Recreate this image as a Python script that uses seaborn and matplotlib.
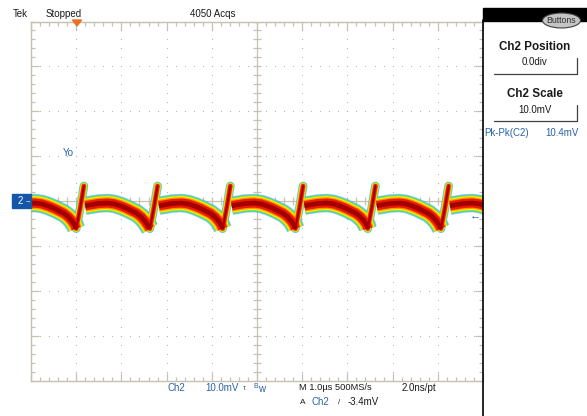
import numpy as np
import pandas as pd
import matplotlib
matplotlib.use("Agg")
import matplotlib.pyplot as plt
import seaborn as sns
from matplotlib.patches import Rectangle, Ellipse, Polygon
from matplotlib.lines import Line2D

# ---------------- data ----------------
# time of each droop minimum (start of the switching spike), microseconds
cycle_bottoms_us = [-5.61, -4.00, -2.37, -0.76, 0.85, 2.45, 4.07]
bottom_mv = -6.1
# fast rising spike after each minimum (offset from the minimum)
spike_dt_us = [0.00, 0.09, 0.17]
spike_mv = [-6.1, -1.4, 3.4]
# slow arch / droop between spikes (offset from the minimum)
band_dt_us = [0.20, 0.32, 0.50, 0.70, 0.85, 1.00, 1.12, 1.24, 1.34, 1.44, 1.52, 1.58]
band_mv = [-1.0, -0.8, -0.5, -0.4, -0.6, -1.1, -1.6, -2.2, -2.7, -3.5, -4.4, -5.3]

# persistence colour layers: (colour, alpha, band width pt, spike width pt)
layers = [
    ("#3a90e8", 0.45, 13.4, 6.4),
    ("#40d0d0", 1.0, 12.4, 5.8),
    ("#80e040", 1.0, 11.2, 5.2),
    ("#f8f000", 1.0, 10.0, 4.6),
    ("#ff9800", 1.0, 8.4, 3.9),
    ("#ee1a00", 1.0, 6.6, 3.0),
    ("#a00000", 1.0, 3.4, 1.4),
]

# build the trace pieces
rows = []
seg = 0
for i, tb in enumerate(cycle_bottoms_us):
    for dt, v in zip(spike_dt_us, spike_mv):
        rows.append(("spike", seg, tb + dt, v))
    seg += 1
    for dt, v in zip(band_dt_us, band_mv):
        rows.append(("band", seg, tb + dt, v))
    if i + 1 < len(cycle_bottoms_us):
        rows.append(("band", seg, cycle_bottoms_us[i + 1], bottom_mv))
    seg += 1
df = pd.DataFrame(rows, columns=["kind", "seg", "t", "mv"])
band = df[df.kind == "band"]
spike = df[df.kind == "spike"]

# ---------------- figure ----------------
sns.set_style("white")
plt.rcParams["font.family"] = ["Liberation Sans", "DejaVu Sans"]

W, H = 587, 416
fig = plt.figure(figsize=(W / 100, H / 100), dpi=100)
fig.patch.set_facecolor("white")

def fx(x):
    return x / W

def fy(y):
    return 1 - y / H

L, R, T, B = 31, 483, 21.5, 381
ax = fig.add_axes([fx(L), fy(B), (R - L) / W, (B - T) / H])
ax.set_xlim(-5, 5)
ax.set_ylim(-40, 40)
ax.set_facecolor("white")

gcol = "#c6c1b2"
dcol = "#b0b0b0"
# dotted graticule
for xv in range(-4, 5):
    if xv == 0:
        continue
    ys = np.arange(-40, 40.01, 2)
    ax.scatter(np.full_like(ys, xv, dtype=float), ys, s=0.7, color=dcol, linewidths=0, zorder=1)
for yv in range(-30, 31, 10):
    if yv == 0:
        continue
    xs = np.arange(-5, 5.01, 0.2)
    ax.scatter(xs, np.full_like(xs, yv, dtype=float), s=0.7, color=dcol, linewidths=0, zorder=1)

# centre cross with ticks
ax.axvline(0, color=gcol, lw=0.9, zorder=1)
ax.axhline(0, color=gcol, lw=0.9, zorder=1)
cx = np.arange(-5, 5.01, 0.2)
ax.plot(cx, np.zeros_like(cx), ls="none", marker="|", ms=5.5, mew=0.9, color=gcol, zorder=1)
cy = np.arange(-40, 40.01, 2)
ax.plot(np.zeros_like(cy), cy, ls="none", marker="_", ms=5.5, mew=0.9, color=gcol, zorder=1)

# border ticks
ax.set_xticks(np.arange(-5, 5.01, 1))
ax.set_xticks(np.arange(-5, 5.01, 0.2), minor=True)
ax.set_yticks(np.arange(-40, 40.01, 10))
ax.set_yticks(np.arange(-40, 40.01, 2), minor=True)
ax.tick_params(which="both", direction="in", top=True, right=True, bottom=True, left=True,
               labelbottom=False, labelleft=False, color=gcol, width=0.9)
ax.tick_params(which="major", length=5.5)
ax.tick_params(which="minor", length=3.0)
for s in ["left", "top", "bottom"]:
    ax.spines[s].set_color(gcol)
    ax.spines[s].set_linewidth(1.0)
ax.spines["right"].set_visible(False)
ax.grid(False)

# waveform persistence layers
for col, a, bw, sw in layers:
    sns.lineplot(data=band, x="t", y="mv", units="seg", estimator=None, sort=False,
                 color=col, alpha=a, linewidth=bw, solid_capstyle="butt", solid_joinstyle="round",
                 legend=False, ax=ax, zorder=3)
    sns.lineplot(data=spike, x="t", y="mv", units="seg", estimator=None, sort=False,
                 color=col, alpha=a, linewidth=sw, solid_capstyle="round", solid_joinstyle="round",
                 legend=False, ax=ax, zorder=3)
ax.set_xlabel("")
ax.set_ylabel("")

# ---------------- annotations ----------------
blue = "#2a62a6"
black = "#1a1a1a"
fs = 7

fig.text(fx(13), fy(14), "Tek", fontsize=fs, color=black, va="center", ha="left")
fig.text(fx(46), fy(14), "Stopped", fontsize=fs, color=black, va="center", ha="left")
fig.text(fx(190), fy(14), "4050 Acqs", fontsize=fs, color=black, va="center", ha="left")
# trigger position marker
fig.add_artist(Polygon([[fx(72.5), fy(20)], [fx(81.5), fy(20)], [fx(77), fy(26)]],
                       closed=True, color="#f07020", transform=fig.transFigure))

fig.text(fx(63), fy(153), "Yo", fontsize=fs, color=blue, va="center", ha="left")

# channel 2 ground marker
fig.add_artist(Rectangle((fx(12), fy(208)), (31 - 12) / W, 14 / H, color="#1456a8",
                         transform=fig.transFigure, zorder=5))
fig.text(fx(20), fy(201), "2", fontsize=fs, color="white", va="center", ha="center", zorder=6)
fig.text(fx(28), fy(201), "\u2192", fontsize=4.5, color="white", va="center", ha="center", zorder=6)
# trigger level arrow
fig.text(fx(475), fy(215.5), "\u2190", fontsize=8, color=blue, va="center", ha="center")

# right panel
fig.add_artist(Line2D([fx(483), fx(483)], [fy(20), fy(416)], color="black", lw=1.2,
                      transform=fig.transFigure))
fig.add_artist(Rectangle((fx(483), fy(21)), (W - 483) / W, 13 / H, color="black",
                         transform=fig.transFigure))
fig.add_artist(Ellipse((fx(561.5), fy(20.5)), 38 / W, 15 / H, facecolor="#c4c4c4",
                       edgecolor="#404040", lw=0.8, transform=fig.transFigure, zorder=5))
fig.text(fx(561.5), fy(20.5), "Buttons", fontsize=6.3, color="#303030", va="center",
         ha="center", zorder=6)

fig.text(fx(535), fy(47), "Ch2 Position", fontsize=8.4, fontweight="bold", color=black,
         va="center", ha="center")
fig.text(fx(535), fy(62), "0.0div", fontsize=fs, color=black, va="center", ha="center")
fig.add_artist(Line2D([fx(494), fx(577), fx(577)], [fy(74), fy(74), fy(58)], color="#404040",
                      lw=0.9, transform=fig.transFigure))
fig.text(fx(535), fy(94), "Ch2 Scale", fontsize=8.4, fontweight="bold", color=black,
         va="center", ha="center")
fig.text(fx(535), fy(110), "10.0mV", fontsize=fs, color=black, va="center", ha="center")
fig.add_artist(Line2D([fx(494), fx(577), fx(577)], [fy(121), fy(121), fy(105)], color="#404040",
                      lw=0.9, transform=fig.transFigure))
fig.text(fx(484), fy(133), "Pk-Pk(C2)", fontsize=fs, color=blue, va="center", ha="left")
fig.text(fx(545), fy(133), "10.4mV", fontsize=fs, color=blue, va="center", ha="left")

# bottom status lines
fig.text(fx(167), fy(388), "Ch2", fontsize=fs, color=blue, va="center", ha="left")
fig.text(fx(205), fy(388), "10.0mV", fontsize=fs, color=blue, va="center", ha="left")
fig.text(fx(243), fy(388), "\u03c4", fontsize=5.5, color=blue, va="center", ha="left")
fig.text(fx(253), fy(387), "B", fontsize=5, color=blue, va="center", ha="left")
fig.text(fx(258), fy(389), "w", fontsize=fs, color=blue, va="center", ha="left")
fig.text(fx(299), fy(388), "M 1.0\u00b5s 500MS/s", fontsize=6.7, color=black, va="center", ha="left")
fig.text(fx(402), fy(388), "2.0ns/pt", fontsize=fs, color=black, va="center", ha="left")
fig.text(fx(300), fy(402), "A", fontsize=6, color=black, va="center", ha="left")
fig.text(fx(312), fy(402), "Ch2", fontsize=fs, color=blue, va="center", ha="left")
fig.text(fx(338), fy(402), "/", fontsize=5.5, color=black, va="center", ha="left")
fig.text(fx(348), fy(402), "-3.4mV", fontsize=fs, color=black, va="center", ha="left")

fig.savefig("out.png", dpi=100, facecolor="white")
